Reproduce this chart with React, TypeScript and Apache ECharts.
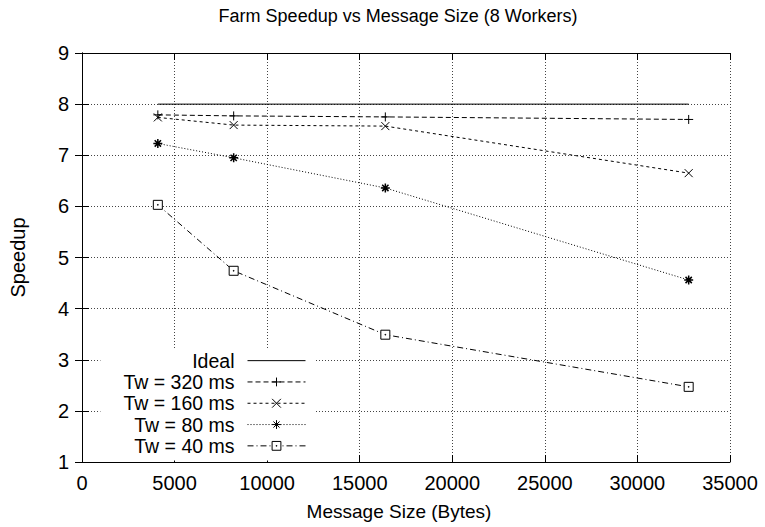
import React, { useEffect, useRef } from "react";
import * as echarts from "echarts";

const messageSizes = [4096, 8192, 16384, 32768];
const ideal = [8, 8, 8, 8];
const tw320 = [7.79, 7.77, 7.75, 7.7];
const tw160 = [7.74, 7.59, 7.57, 6.65];
const tw80 = [7.23, 6.95, 6.36, 4.56];
const tw40 = [6.03, 4.74, 3.49, 2.47];

const seriesNames = ["Ideal", "Tw = 320 ms", "Tw = 160 ms", "Tw = 80 ms", "Tw = 40 ms"];
const xMin = 0;
const xMax = 35000;
const xStep = 5000;
const yMin = 1;
const yMax = 9;
const yStep = 1;

const FONT = "'Liberation Sans', Arial, Helvetica, sans-serif";

const plusSym = "path://M0,5L10,5M5,0L5,10";
const crossSym = "path://M0,0L10,10M10,0L0,10";
const starSym = "path://M0,5L10,5M5,0L5,10M1.5,1.5L8.5,8.5M8.5,1.5L1.5,8.5";
const boxSym = "path://M0,0L10,0L10,10L0,10ZM4.6,4.6L5.4,4.6L5.4,5.4L4.6,5.4Z";

const pairs = (ys: number[]) => messageSizes.map((x, i) => [x, ys[i]]);

export default function App() {
  const ref = useRef<HTMLDivElement>(null);
  useEffect(() => {
    if (!ref.current) return;
    const chart = echarts.init(ref.current, undefined, { renderer: "svg" });
    const axisCommon = {
      type: "value" as const,
      axisLine: { show: true, lineStyle: { color: "#000", width: 1 } },
      axisTick: { show: true, inside: true, length: 7, lineStyle: { color: "#000", width: 1 } },
    };
    const gridLine = { show: true, lineStyle: { color: "#444", width: 1, type: [1, 2] } };
    const mk = (name: string, ys: number[], symbol: string, dash: any, fill = "#000", size = 9, bw = 1) => ({
      name,
      type: "line",
      data: pairs(ys),
      symbol,
      symbolSize: size,
      showAllSymbol: true,
      itemStyle: { color: fill, borderColor: "#000", borderWidth: bw },
      lineStyle: { color: "#000", width: 1, type: dash },
      emphasis: { disabled: true },
      z: 3,
    });
    chart.setOption({
      animation: false,
      backgroundColor: "#fff",
      title: {
        text: "Farm Speedup vs Message Size (8 Workers)",
        left: 393,
        textAlign: "center",
        top: 2,
        textStyle: { fontFamily: FONT, fontSize: 18, fontWeight: "normal", color: "#000" },
      },
      grid: { left: 82, right: 35, top: 53, bottom: 65 },
      xAxis: [
        {
          ...axisCommon,
          position: "bottom",
          min: xMin,
          max: xMax,
          interval: xStep,
          axisLabel: { fontFamily: FONT, fontSize: 20, color: "#000", margin: 11, formatter: (v: number) => String(v) },
          splitLine: gridLine,
          name: "Message Size (Bytes)",
          nameLocation: "middle",
          nameGap: 40,
          nameTextStyle: { fontFamily: FONT, fontSize: 19, color: "#000", padding: [0, 14, 0, 0] },
        },
        {
          ...axisCommon,
          position: "top",
          min: xMin,
          max: xMax,
          interval: xStep,
          axisLabel: { show: false },
          splitLine: { show: false },
        },
      ],
      yAxis: [
        {
          ...axisCommon,
          position: "left",
          min: yMin,
          max: yMax,
          interval: yStep,
          axisLabel: { fontFamily: FONT, fontSize: 20, color: "#000", margin: 13 },
          splitLine: gridLine,
          name: "Speedup",
          nameLocation: "middle",
          nameGap: 54,
          nameRotate: 90,
          nameTextStyle: { fontFamily: FONT, fontSize: 20, color: "#000" },
        },
        {
          ...axisCommon,
          position: "right",
          min: yMin,
          max: yMax,
          interval: yStep,
          axisLabel: { show: false },
          splitLine: { show: false },
        },
      ],
      legend: {
        orient: "vertical",
        align: "right",
        right: 765 - 315,
        top: 348,
        itemWidth: 58,
        itemHeight: 11,
        itemGap: 0,
        padding: [2, 9, 4, 23],
        backgroundColor: "#fff",
        selectedMode: false,
        lineStyle: { width: 1 },
        itemStyle: { borderWidth: 1 },
        textStyle: { fontFamily: FONT, fontSize: 19.5, color: "#000", lineHeight: 21.3, padding: [0, 8, 0, 0] },
        data: [
          { name: seriesNames[0], itemStyle: { opacity: 0 } },
          { name: seriesNames[1] },
          { name: seriesNames[2] },
          { name: seriesNames[3] },
          { name: seriesNames[4] },
        ],
        z: 5,
      },
      series: [
        {
          name: seriesNames[0],
          type: "line",
          data: pairs(ideal),
          symbol: "none",
          lineStyle: { color: "#000", width: 1, type: "solid" },
          itemStyle: { color: "#000" },
          emphasis: { disabled: true },
          z: 3,
        },
        mk(seriesNames[1], tw320, plusSym, [5, 3]),
        mk(seriesNames[2], tw160, crossSym, [3, 3], "#000", 8),
        mk(seriesNames[3], tw80, starSym, [1, 2], "#000", 9, 1.5),
        mk(seriesNames[4], tw40, boxSym, [6, 3, 1, 3], "#fff", 9),
      ],
    });
    return () => chart.dispose();
  }, []);
  return <div ref={ref} style={{ width: 765, height: 527, position: "absolute", left: 0, top: 0 }} />;
}
